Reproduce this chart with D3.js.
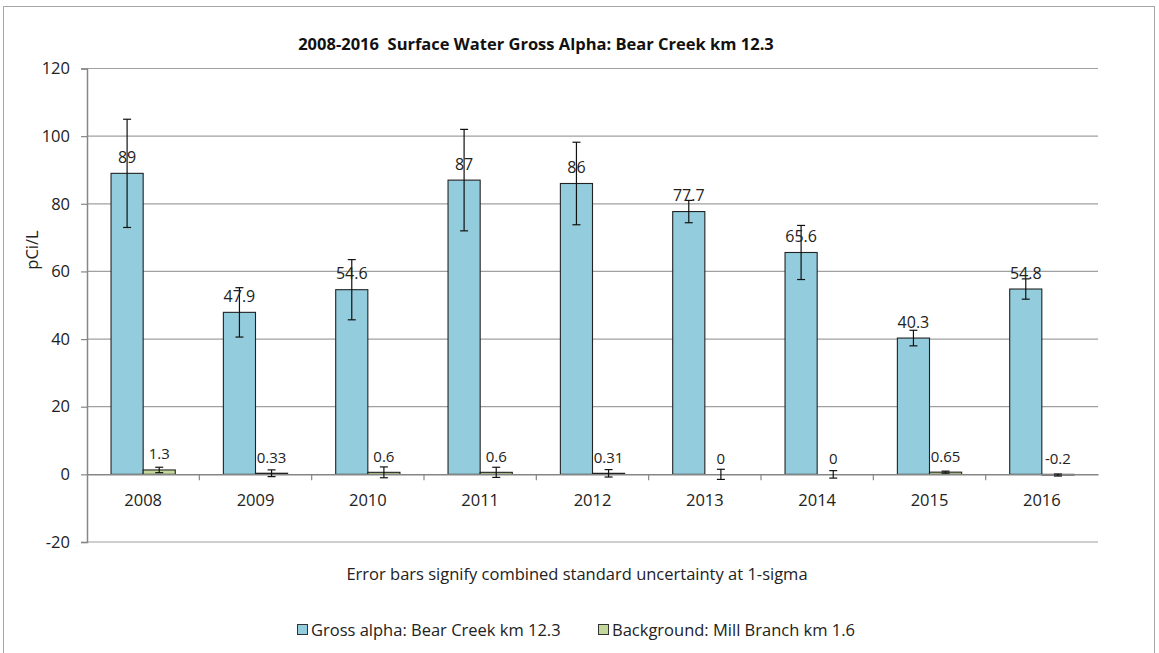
<!DOCTYPE html>
<html><head><meta charset="utf-8">
<script src="https://cdn.jsdelivr.net/npm/d3@7/dist/d3.min.js"></script>
<style>body{margin:0;background:#fff}svg{display:block;font-family:"Open Sans",sans-serif}</style>
</head><body><svg id="c" width="1159" height="653"></svg>
<script>
const years = ["2008","2009","2010","2011","2012","2013","2014","2015","2016"];
const grossAlpha = [89,47.9,54.6,87,86,77.7,65.6,40.3,54.8];
const grossAlphaErr = [16,7.3,8.9,15,12.2,3.3,8,2.3,3];
const background = [1.3,0.33,0.6,0.6,0.31,0,0,0.65,-0.2];
const backgroundErr = [0.8,1,1.6,1.5,1.1,1.5,1.1,0.3,0.3];
const seriesNames = ["Gross alpha: Bear Creek km 12.3","Background: Mill Branch km 1.6"];
const seriesColors = ["#93cddd","#c4d79b"];
const yTicks = [-20,0,20,40,60,80,100,120];
const titleText = "2008-2016  Surface Water Gross Alpha: Bear Creek km 12.3";
const noteText = "Error bars signify combined standard uncertainty at 1-sigma";
const yLabel = "pCi/L";

const svg = d3.select("#c");
const L=87, R=1098, T=68.5, B=542;
svg.append("rect").attr("x",3.5).attr("y",6.5).attr("width",1151).attr("height",700)
  .attr("fill","#fff").attr("stroke","#a6a6a6");

const y = d3.scaleLinear().domain([-20,120]).range([B,T]);
const x = d3.scaleBand().domain(years).range([L,R]);
const bw = x.bandwidth();
const xs = d3.scaleBand().domain([0,1]).range([bw*0.214, bw*0.786]);

// gridlines
svg.append("g").selectAll("line").data(yTicks.filter(t=>t!==0)).join("line")
  .attr("x1",L).attr("x2",R).attr("y1",d=>y(d)).attr("y2",d=>y(d))
  .attr("stroke","#a0a0a0").attr("stroke-width",1.2);

// y axis
const ya = svg.append("g").attr("transform",`translate(${L},0)`)
  .call(d3.axisLeft(y).tickValues(yTicks).tickFormat(d=>String(d)).tickSize(6).tickPadding(11));
ya.select(".domain").attr("stroke","#868686").attr("stroke-width",1.5);
ya.selectAll(".tick line").attr("stroke","#868686").attr("stroke-width",1.2);
ya.selectAll("text").attr("font-size","16.5px").attr("fill","#222").attr("font-family","Open Sans");

svg.append("text").attr("transform",`translate(38,250) rotate(-90)`)
  .attr("text-anchor","middle").attr("font-size","16.5px").attr("fill","#222").text(yLabel);

const groups = [grossAlpha, background];
const errs = [grossAlphaErr, backgroundErr];
groups.forEach((vals,si)=>{
  const g = svg.append("g");
  g.selectAll("rect").data(vals).join("rect")
    .attr("x",(d,i)=>x(years[i])+xs(si)).attr("width",xs.bandwidth())
    .attr("y",d=>y(Math.max(d,0))).attr("height",d=>Math.abs(y(d)-y(0)))
    .attr("fill",seriesColors[si]).attr("stroke","#222").attr("stroke-width",1.1);
});

// x axis
const xa = svg.append("g").attr("transform",`translate(0,${y(0)})`)
  .call(d3.axisBottom(x).tickSize(0).tickPadding(20));
xa.select(".domain").attr("stroke","#868686").attr("stroke-width",1.5);
xa.selectAll("text").attr("font-size","16.5px").attr("fill","#222").attr("font-family","Open Sans");
svg.append("g").selectAll("line").data(years.slice(1)).join("line")
  .attr("x1",d=>x(d)).attr("x2",d=>x(d)).attr("y1",y(0)).attr("y2",y(0)+6)
  .attr("stroke","#868686").attr("stroke-width",1.2);

// error bars and labels
groups.forEach((vals,si)=>{
  const g = svg.append("g");
  vals.forEach((v,i)=>{
    const cx = x(years[i])+xs(si)+xs.bandwidth()/2;
    const e = errs[si][i];
    const y1=y(v+e), y2=y(v-e);
    g.append("line").attr("x1",cx).attr("x2",cx).attr("y1",y1).attr("y2",y2).attr("stroke","#111").attr("stroke-width",1.2);
    [y1,y2].forEach(yy=>g.append("line").attr("x1",cx-4).attr("x2",cx+4).attr("y1",yy).attr("y2",yy).attr("stroke","#111").attr("stroke-width",1.2));
  });
  g.selectAll("text").data(vals).join("text")
    .attr("x",(d,i)=>x(years[i])+xs(si)+xs.bandwidth()/2)
    .attr("y",d=>y(Math.max(d,0))-10.5)
    .attr("text-anchor","middle").attr("font-size",si===0?"16px":"15px").attr("fill","#222")
    .text(d=>String(d));
});

svg.append("text").attr("x",536).attr("y",50).attr("text-anchor","middle")
  .style("white-space","pre")
  .attr("font-size","16.5px").attr("font-weight","bold").attr("fill","#111").text(titleText);

svg.append("text").attr("x",577).attr("y",580).attr("text-anchor","middle")
  .attr("font-size","16.5px").attr("fill","#222").text(noteText);

// legend
const legX = [297, 598];
seriesNames.forEach((n,i)=>{
  svg.append("rect").attr("x",legX[i]+0.5).attr("y",624.5).attr("width",10).attr("height",10)
    .attr("fill",seriesColors[i]).attr("stroke","#333").attr("stroke-width",1);
  svg.append("text").attr("x",legX[i]+14).attr("y",636).attr("font-size","16.5px").attr("fill","#222").text(n);
});
</script></body></html>
